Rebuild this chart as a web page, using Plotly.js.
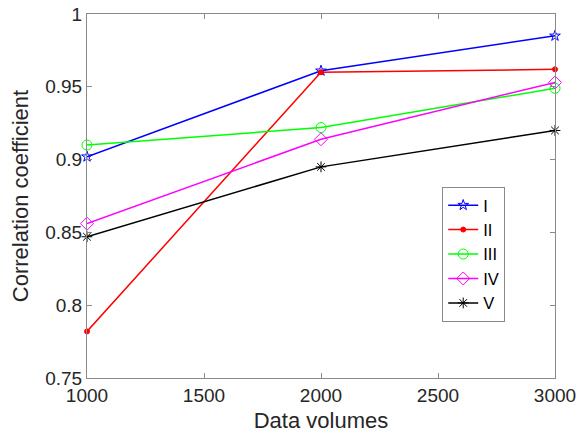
<!DOCTYPE html>
<html>
<head>
<meta charset="utf-8">
<script src="https://cdn.plot.ly/plotly-3.0.1.min.js"></script>
<style>html,body{margin:0;padding:0;background:#fff;}#chart{width:577px;height:442px;}</style>
</head>
<body>
<div id="chart"></div>
<script>
var dataVolumes = [1000, 2000, 3000];
var seriesNames = ["I", "II", "III", "IV", "V"];
var valuesI = [0.902, 0.961, 0.985];
var valuesII = [0.782, 0.960, 0.962];
var valuesIII = [0.910, 0.922, 0.949];
var valuesIV = [0.856, 0.914, 0.953];
var valuesV = [0.847, 0.895, 0.920];
var yTickVals = [0.75, 0.8, 0.85, 0.9, 0.95, 1];
var yTickText = ["0.75", "0.8", "0.85", "0.9", "0.95", "1"];
var xTickVals = [1000, 1500, 2000, 2500, 3000];

var allValues = [valuesI, valuesII, valuesIII, valuesIV, valuesV];
var colors = ["#0000ff", "#ff0000", "#00ff00", "#ff00ff", "#000000"];
var symbols = ["star-open", "circle", "circle-open", "diamond-open", "asterisk-open"];
var sizes = [8, 5, 10, 10, 9];

var traces = allValues.map(function (vals, i) {
  return {
    x: dataVolumes, y: vals, name: seriesNames[i], type: "scatter", mode: "lines+markers",
    line: {color: colors[i], width: 1.5},
    marker: {symbol: symbols[i], size: sizes[i], color: colors[i], line: {color: colors[i], width: 1}},
    cliponaxis: false
  };
});

var fontFam = "Liberation Sans, Arial, sans-serif";
var axisCommon = {
  showgrid: false, zeroline: false, showline: true, mirror: "ticks",
  linecolor: "#8a8a8a", linewidth: 1, ticks: "inside", ticklen: 5, tickcolor: "#8a8a8a",
  tickfont: {family: fontFam, size: 19, color: "#262626"}
};

var layout = {
  width: 577, height: 442,
  margin: {l: 87, r: 22, t: 14, b: 64},
  paper_bgcolor: "#fff", plot_bgcolor: "#fff",
  showlegend: true,
  xaxis: Object.assign({}, axisCommon, {
    range: [1000, 3000], tickvals: xTickVals,
    title: {text: "Data volumes", font: {family: fontFam, size: 22, color: "#262626"}, standoff: 7}
  }),
  yaxis: Object.assign({}, axisCommon, {
    range: [0.75, 1], tickvals: yTickVals, ticktext: yTickText,
    title: {text: "Correlation coefficient", font: {family: fontFam, size: 22, color: "#262626"}, standoff: 10}
  }),
  legend: {
    x: 0.759, y: 0.525, xanchor: "left", yanchor: "top",
    bgcolor: "#fff", bordercolor: "#8a8a8a", borderwidth: 1,
    font: {family: fontFam, size: 16.5, color: "#000"},
    tracegroupgap: 0, itemwidth: 30
  }
};

Plotly.newPlot("chart", traces, layout, {displayModeBar: false, staticPlot: true});
</script>
</body>
</html>
